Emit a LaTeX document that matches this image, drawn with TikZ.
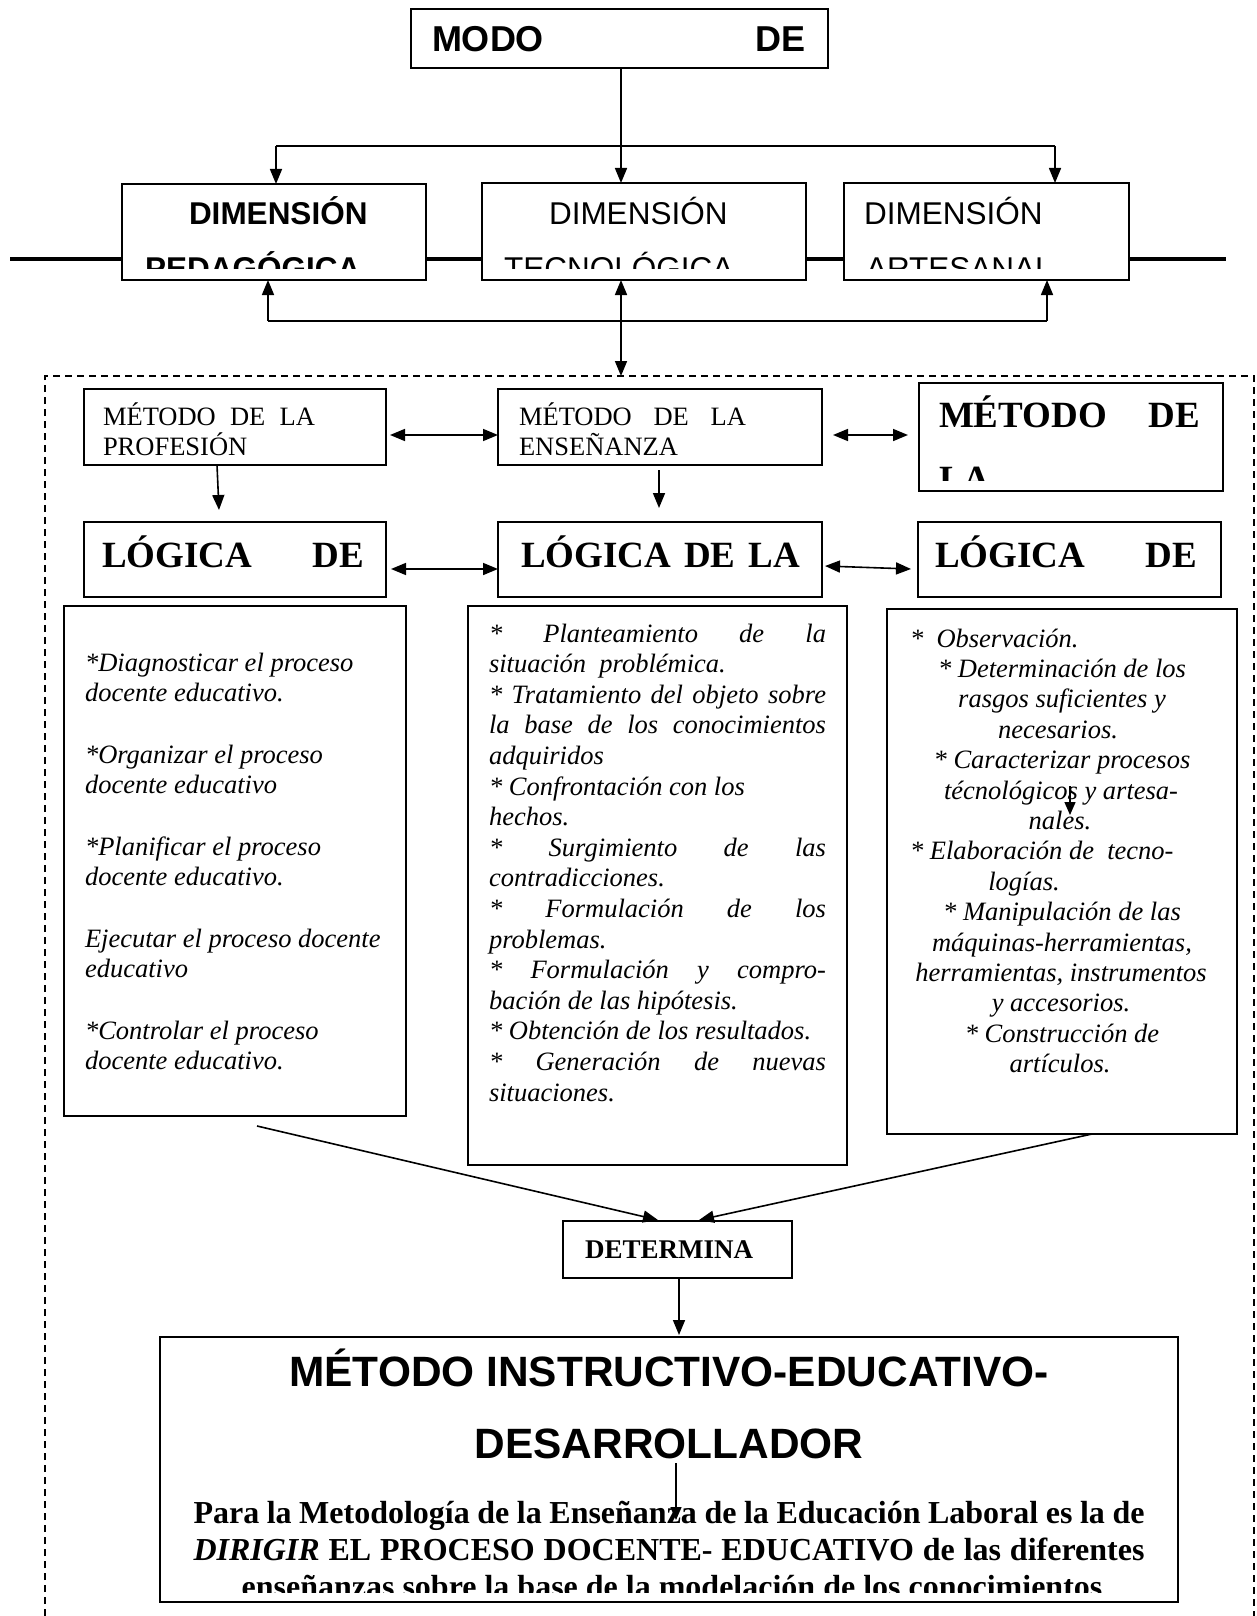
\documentclass[tikz,border=0pt]{standalone}
\usepackage{fontspec}
\setmainfont{Liberation Serif}
\setsansfont{Liberation Sans}
\usetikzlibrary{arrows.meta,calc}
\begin{document}
\begin{tikzpicture}[x=1pt,y=-1pt,
  box/.style={draw,line width=1.8pt,fill=white,inner sep=0pt,outer sep=0pt,anchor=north west},
  tx/.style={inner sep=0pt,outer sep=0pt,anchor=base west},
  tc/.style={inner sep=0pt,outer sep=0pt,anchor=base},
  con/.style={line width=1.6pt},
  arr/.style={line width=1.6pt,-{Triangle[length=15pt,width=12pt]}},
  darr/.style={line width=1.6pt,{Triangle[length=15pt,width=12pt]}-{Triangle[length=15pt,width=12pt]}},
  fmodo/.style={font=\fontsize{36}{41}\selectfont\sffamily\bfseries},
  fdimb/.style={font=\fontsize{31.5}{36}\selectfont\sffamily\bfseries},
  fdim/.style={font=\fontsize{31.5}{36}\selectfont\sffamily},
  fmet/.style={font=\fontsize{26.5}{30.6}\selectfont},
  fhead/.style={font=\fontsize{37}{42}\selectfont\bfseries},
  fital/.style={font=\fontsize{26.5}{30.6}\selectfont\itshape},
  fdet/.style={font=\fontsize{27}{31}\selectfont\bfseries},
  fbig/.style={font=\fontsize{42.4}{48}\selectfont\sffamily\bfseries},
  fpar/.style={font=\fontsize{32}{37}\selectfont\bfseries},
  frame/.style={line width=2.2pt,dash pattern=on 7pt off 5pt}
]
\useasboundingbox (0,0) rectangle (1257,1616);

% thick horizontal line behind the dimension boxes
\coordinate (tl) at (10,259);
\coordinate (tr) at (1226,259);
\draw[line width=3.5pt] (tl) -- (tr);

% dashed frame
\coordinate (fbl) at (45,1616);
\coordinate (ftl) at (45,376);
\coordinate (ftr) at (1254,376);
\coordinate (fbr) at (1254,1616);
\coordinate (dashtop) at (621,376);
\draw[frame] (fbl) -- (ftl) -- (ftr) -- (fbr);

% boxes
\node[box,minimum width=417pt,minimum height=59pt] (modo) at (411,9) {};
\node[box,minimum width=304pt,minimum height=96pt] (dimped) at (122,184) {};
\node[box,minimum width=324pt,minimum height=97pt] (dimtec) at (482,183) {};
\node[box,minimum width=285pt,minimum height=97pt] (dimart) at (844,183) {};
\node[box,minimum width=302pt,minimum height=76pt] (metprof) at (84,389) {};
\node[box,minimum width=324pt,minimum height=76pt] (metens) at (498,389) {};
\node[box,minimum width=304pt,minimum height=108pt] (mettec) at (919,383) {};
\node[box,minimum width=302pt,minimum height=75pt] (logprof) at (84,522) {};
\node[box,minimum width=324pt,minimum height=75pt] (logens) at (498,522) {};
\node[box,minimum width=303pt,minimum height=75pt] (logtec) at (918,522) {};
\node[box,minimum width=342pt,minimum height=510pt] (txtprof) at (64,606) {};
\node[box,minimum width=379pt,minimum height=559pt] (txtens) at (468,606) {};
\node[box,minimum width=350pt,minimum height=525pt] (txttec) at (887,609) {};
\node[box,minimum width=229pt,minimum height=57pt] (det) at (563,1221) {};
\node[box,minimum width=1018pt,minimum height=265pt] (big) at (160,1337) {};

% top texts
\node[tx,fmodo] (tmodo) at (432,52) {\makebox[374pt][s]{MODO DE}};
\begin{scope}
\clip (122,184) rectangle (426,268);
\node[tx,fdimb] (tdp1) at (189,224) {DIMENSIÓN};
\node[tx,fdimb] (tdp2) at (145,279) {PEDAGÓGICA};
\end{scope}
\begin{scope}
\clip (482,183) rectangle (806,268);
\node[tx,fdim] (tdt1) at (549,224) {DIMENSIÓN};
\node[tx,fdim] (tdt2) at (504,279) {TECNOLÓGICA};
\end{scope}
\begin{scope}
\clip (844,183) rectangle (1129,268);
\node[tx,fdim] (tda1) at (864,224) {DIMENSIÓN};
\node[tx,fdim] (tda2) at (866,279) {ARTESANAL};
\end{scope}

% method boxes
\node[tx,fmet] (tmp1) at (103,425) {\makebox[212pt][s]{MÉTODO DE LA}};
\node[tx,fmet] (tmp2) at (103,455) {PROFESIÓN};
\node[tx,fmet] (tme1) at (519,425) {\makebox[227pt][s]{MÉTODO DE LA}};
\node[tx,fmet] (tme2) at (519,455) {ENSEÑANZA};
\begin{scope}
\clip (919,383) rectangle (1223,480);
\node[tx,fhead] (tmt1) at (939,427) {\makebox[261pt][s]{MÉTODO DE}};
\node[tx,fhead] (tmt2) at (939,491) {LA};
\end{scope}

% logic boxes
\node[tx,fhead] (tlp) at (102,567) {\makebox[262pt][s]{LÓGICA DE}};
\node[tx,fhead] (tle) at (521,567) {\makebox[279pt][s]{LÓGICA DE LA}};
\node[tx,fhead] (tlt) at (935,567) {\makebox[262pt][s]{LÓGICA DE}};

% left text box
\node[tx,fital] (p1) at (85,671) {*Diagnosticar el proceso};
\node[tx,fital] (p2) at (85,701.6) {docente educativo.};
\node[tx,fital] (p3) at (85,763) {*Organizar el proceso};
\node[tx,fital] (p4) at (85,793.6) {docente educativo};
\node[tx,fital] (p5) at (85,855) {*Planificar el proceso};
\node[tx,fital] (p6) at (85,885.6) {docente educativo.};
\node[tx,fital] (p7) at (85,947) {Ejecutar el proceso docente};
\node[tx,fital] (p8) at (85,977.6) {educativo};
\node[tx,fital] (p9) at (85,1039) {*Controlar el proceso};
\node[tx,fital] (p10) at (85,1069.6) {docente educativo.};

% middle text box
\node[tx,fital] (m1) at (489,642) {\makebox[337pt][s]{* Planteamiento de la}};
\node[tx,fital] (m2) at (489,672.6) {situación\ \ problémica.};
\node[tx,fital] (m3) at (489,703.2) {\makebox[337pt][s]{* Tratamiento del objeto sobre}};
\node[tx,fital] (m4) at (489,733.8) {\makebox[337pt][s]{la base de los conocimientos}};
\node[tx,fital] (m5) at (489,764.4) {adquiridos};
\node[tx,fital] (m6) at (489,795) {* Confrontación con los};
\node[tx,fital] (m7) at (489,825.6) {hechos.};
\node[tx,fital] (m8) at (489,856.2) {\makebox[337pt][s]{* Surgimiento de las}};
\node[tx,fital] (m9) at (489,886.8) {contradicciones.};
\node[tx,fital] (m10) at (489,917.4) {\makebox[337pt][s]{* Formulación de los}};
\node[tx,fital] (m11) at (489,948) {problemas.};
\node[tx,fital] (m12) at (489,978.6) {\makebox[337pt][s]{* Formulación y compro-}};
\node[tx,fital] (m13) at (489,1009.2) {bación de las hipótesis.};
\node[tx,fital] (m14) at (489,1039.8) {* Obtención de los resultados.};
\node[tx,fital] (m15) at (489,1070.4) {\makebox[337pt][s]{* Generación de nuevas}};
\node[tx,fital] (m16) at (489,1101) {situaciones.};

% right text box
\node[tx,fital] (r1) at (910,647) {*\ \ Observación.};
\node[tc,fital] (r2) at (1062,677.4) {* Determinación de los};
\node[tc,fital] (r3) at (1062,707.8) {rasgos suficientes y};
\node[tc,fital] (r4) at (1058,738.2) {necesarios.};
\node[tc,fital] (r5) at (1062,768.6) {* Caracterizar procesos};
\node[tc,fital] (r6) at (1061,799) {técnológicos y artesa-};
\node[tc,fital] (r7) at (1060,829.4) {nales.};
\node[tx,fital] (r8) at (910,859.8) {* Elaboración de\ \ tecno-};
\node[tc,fital] (r9) at (1024,890.2) {logías.};
\node[tc,fital] (r10) at (1062,920.6) {* Manipulación de las};
\node[tc,fital] (r11) at (1062,951) {máquinas-herramientas,};
\node[tc,fital] (r12) at (1061,981.4) {herramientas, instrumentos};
\node[tc,fital] (r13) at (1061,1011.8) {y accesorios.};
\node[tc,fital] (r14) at (1062,1042.2) {* Construcción de};
\node[tc,fital] (r15) at (1060,1072.6) {artículos.};

% DETERMINA and big box
\node[tx,fdet] (tdet) at (585,1258) {DETERMINA};
\node[tc,fbig] (tb1) at (669,1386) {MÉTODO INSTRUCTIVO-EDUCATIVO-};
\node[tc,fbig] (tb2) at (669,1458) {DESARROLLADOR};
\node[tx,fpar] (tb3) at (193.5,1523) {\makebox[951pt][s]{Para la Metodología de la Enseñanza de la Educación Laboral es la de}};
\node[tx,fpar] (tb4) at (193.5,1560) {\makebox[951pt][s]{\textit{DIRIGIR} EL PROCESO DOCENTE- EDUCATIVO de las diferentes}};
\begin{scope}
\clip (160,1337) rectangle (1178,1592);
\node[tc,fpar] (tb5) at (672,1597) {enseñanzas sobre la base de la modelación de los conocimientos};
\end{scope}

% top connectors
\coordinate (xL) at (276,146);
\coordinate (xM) at (621,146);
\coordinate (xR) at (1055,146);
\draw[con] (xL) -- (xR);
\draw[arr] (xL) -- (xL |- dimped.north);
\draw[arr] (xM |- modo.south) -- (xM |- dimtec.north);
\draw[arr] (xR) -- (xR |- dimart.north);

\coordinate (bL) at (268,321);
\coordinate (bM) at (621,321);
\coordinate (bR) at (1047,321);
\draw[con] (bL) -- (bR);
\draw[arr] (bL) -- (bL |- dimped.south);
\draw[arr] (bR) -- (bR |- dimart.south);
\draw[darr] (bM |- dimtec.south) -- (dashtop);

% row connectors
\coordinate (ra) at (0,435);
\coordinate (rb) at (0,569);
\draw[darr,shorten <=4pt] (metprof.east |- ra) -- (metens.west |- ra);
\draw[darr,shorten <=11pt,shorten >=11pt] (metens.east |- ra) -- (mettec.west |- ra);
\draw[darr,shorten <=5pt] (logprof.east |- rb) -- (logens.west |- rb);
\draw[darr] ($(logens.east |- rb)+(3,-3)$) -- ($(logtec.west |- rb)+(-7,0)$);
\draw[arr] ($(metprof.south west)+(133,0)$) -- ($(logprof.north west)+(135,-12)$);
\draw[arr] ($(metens.south west)+(161,5)$) -- ($(logens.north west)+(161,-14)$);

% small arrow inside right text box
\coordinate (sa) at (1070,786);
\coordinate (sb) at (1070,815);
\draw[line width=1.4pt,-{Triangle[length=13pt,width=11pt]}] (sa) -- (sb);

% converging arrows
\coordinate (cl) at (257,1126);
\draw[arr] (cl) -- ($(det.north west)+(95,-1)$);
\draw[arr] ($(txttec.south west)+(205,0)$) -- ($(det.north west)+(136,-1)$);
\draw[arr] ($(det.south west)+(116,0)$) -- ($(big.north west)+(519,-2)$);

% arrow inside big box
\coordinate (ia) at (676,1463);
\coordinate (ib) at (676,1520);
\draw[line width=1.4pt,-{Triangle[length=13pt,width=11pt]}] (ia) -- (ib);
\end{tikzpicture}
\end{document}
